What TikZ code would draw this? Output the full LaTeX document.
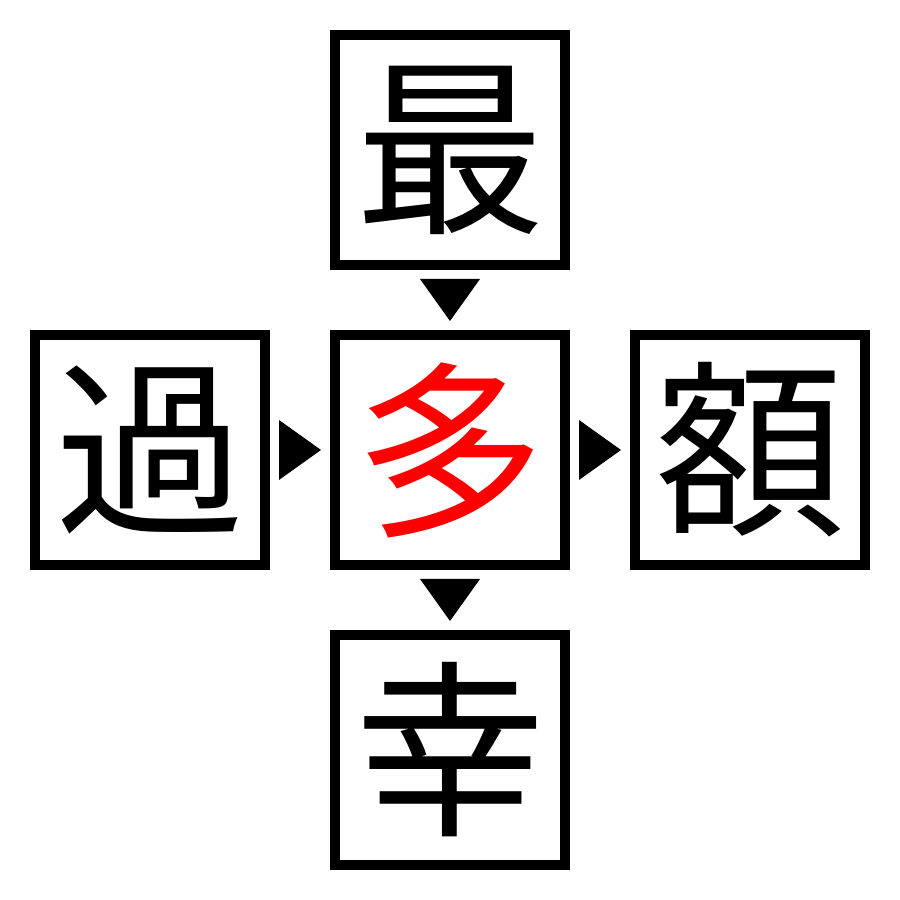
\documentclass[tikz,border=0pt]{standalone}
\usepackage{fontspec}
\newfontfamily\cjk{Noto Sans CJK JP}
\usepackage{tikz}
\usetikzlibrary{positioning,calc}

\begin{document}
\begin{tikzpicture}[
    kanji/.style={draw=black,line width=0.1cm,minimum size=2.3cm,inner sep=0pt,
      font=\cjk\fontsize{54}{54}\selectfont}
  ]
      \useasboundingbox[fill=white] (0,0) rectangle (9,9);
      \node[kanji] (top) at (4.5,7.5) {最};
      \node[kanji,text=red] (mid) at (4.5,4.5) {多};
      \node[kanji] (left) at (1.5,4.5) {過};
      \node[kanji] (right) at (7.5,4.5) {額};
      \node[kanji] (bottom) at (4.5,1.5) {幸};
      % arrows between the boxes
      \coordinate (a1) at ($(top)!0.5!(mid)$);
      \coordinate (a2) at ($(mid)!0.5!(bottom)$);
      \coordinate (a3) at ($(left)!0.5!(mid)$);
      \coordinate (a4) at ($(mid)!0.5!(right)$);
      \fill ($(a1)+(-0.3,0.21)$) -- ($(a1)+(0.3,0.21)$) -- ($(a1)+(0,-0.21)$) -- cycle;
      \fill ($(a2)+(-0.3,0.21)$) -- ($(a2)+(0.3,0.21)$) -- ($(a2)+(0,-0.21)$) -- cycle;
      \fill ($(a3)+(-0.21,0.3)$) -- ($(a3)+(-0.21,-0.3)$) -- ($(a3)+(0.21,0)$) -- cycle;
      \fill ($(a4)+(-0.21,0.3)$) -- ($(a4)+(-0.21,-0.3)$) -- ($(a4)+(0.21,0)$) -- cycle;
    \end{tikzpicture}
\end{document}
